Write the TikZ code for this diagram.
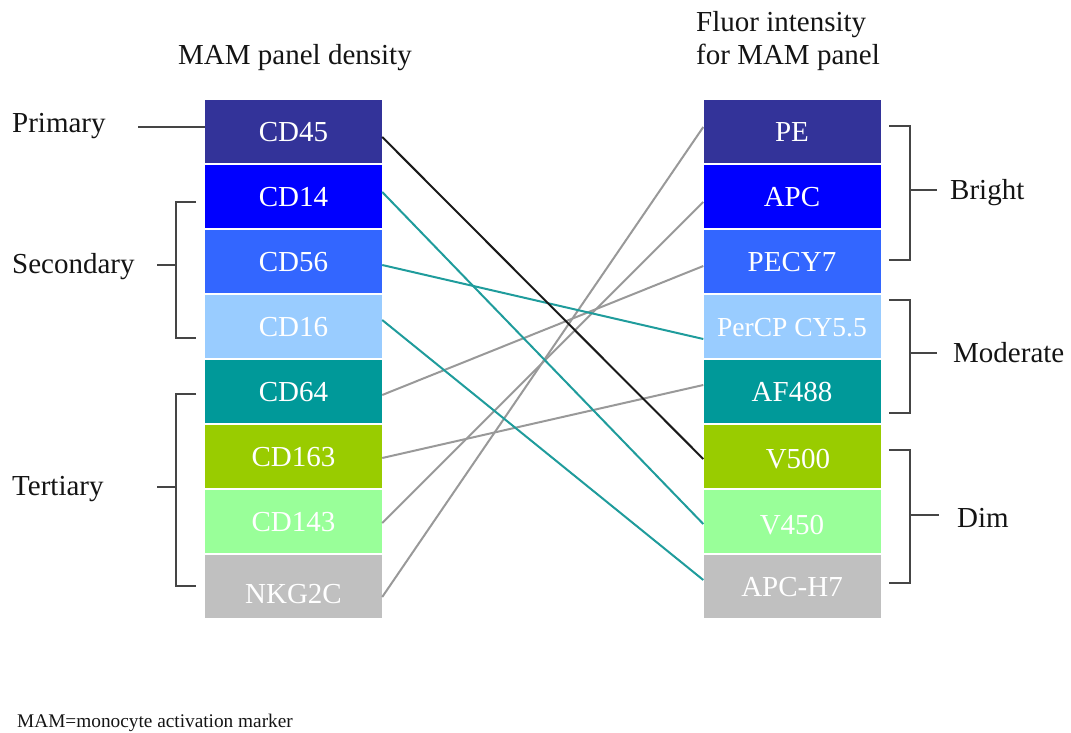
\documentclass[tikz,border=0pt]{standalone}
\usepackage{fontspec}
\setmainfont{Liberation Serif}
\definecolor{cA}{HTML}{333399}
\definecolor{cB}{HTML}{0000FF}
\definecolor{cC}{HTML}{3366FF}
\definecolor{cD}{HTML}{99CCFF}
\definecolor{cE}{HTML}{009999}
\definecolor{cF}{HTML}{99CC00}
\definecolor{cG}{HTML}{99FF99}
\definecolor{cH}{HTML}{C0C0C0}
\definecolor{lteal}{HTML}{1F9C9C}
\definecolor{lgray}{HTML}{999999}
\definecolor{lblack}{HTML}{1A1A1A}
\definecolor{tblack}{HTML}{141414}
\definecolor{bgray}{HTML}{454545}
\tikzset{
  box/.style={minimum width=177pt, minimum height=63pt, inner sep=0pt, text=white,
    font=\fontsize{29}{33}\selectfont, text height=20pt, text depth=0pt},
  lbl/.style={font=\fontsize{29}{33}\selectfont, anchor=base west, inner sep=0pt, text=tblack},
  brk/.style={draw=bgray, line width=1.5pt},
  lnk/.style={line width=2pt},
}
\begin{document}
\begin{tikzpicture}[x=1pt,y=-1pt]
\useasboundingbox (0,0) rectangle (1071,733);
% titles
\node[lbl] (t1) at (178,65) {MAM panel density};
\node[lbl] (t2) at (696,32) {Fluor intensity};
\node[lbl] (t3) at (696,65) {for MAM panel};
% left column
\node[box, fill=cA] (CD45) at (293.5,131.5) {CD45};
\node[box, fill=cB] (CD14) at (293.5,196.5) {CD14};
\node[box, fill=cC] (CD56) at (293.5,261.5) {CD56};
\node[box, fill=cD] (CD16) at (293.5,326.5) {CD16};
\node[box, fill=cE] (CD64) at (293.5,391.5) {CD64};
\node[box, fill=cF] (CD163) at (293.5,456.5) {CD163};
\node[box, fill=cG] (CD143) at (293.5,521.5) {CD143};
\node[box, fill=cH, text height=34pt] (NKG2C) at (293.5,586.5) {NKG2C};
% right column
\node[box, fill=cA] (PE) at (792,131.5) {PE};
\node[box, fill=cB] (APC) at (792,196.5) {APC};
\node[box, fill=cC] (PECY7) at (792,261.5) {PECY7};
\node[box, fill=cD, font=\fontsize{27.5}{33}\selectfont] (PerCP) at (792,326.5) {PerCP CY5.5};
\node[box, fill=cE] (AF488) at (792,391.5) {AF488};
\node[box, fill=cF, text height=24pt] (V500) at (792,456.5) {\hspace{12pt}V500};
\node[box, fill=cG, text height=25pt] (V450) at (792,521.5) {V450};
\node[box, fill=cH] (APCH7) at (792,586.5) {APC-H7};
% left labels
\node[lbl] (prim) at (12,133) {Primary};
\node[lbl] (sec) at (12,273) {Secondary};
\node[lbl] (ter) at (12,495) {Tertiary};
% right labels
\node[lbl] (bri) at (950,200) {Bright};
\node[lbl] (mod) at (953,362) {Moderate};
\node[lbl] (dim) at (957,527) {Dim};
% left brackets
\coordinate (pl) at (138,127);
\draw[brk] (pl) -- (pl -| CD45.west);
\draw[brk] (196,202) -- (176,202) -- (176,338) -- (196,338);
\draw[brk] (157,265) -- (176,265);
\draw[brk] (196,394) -- (176,394) -- (176,586) -- (196,586);
\draw[brk] (157,487) -- (176,487);
% right brackets
\draw[brk] (889,126) -- (910,126) -- (910,260) -- (889,260);
\draw[brk] (910,190) -- (937,190);
\draw[brk] (889,300) -- (910,300) -- (910,413) -- (889,413);
\draw[brk] (910,353) -- (937,353);
\draw[brk] (889,450) -- (910,450) -- (910,583) -- (889,583);
\draw[brk] (910,515) -- (939,515);
% connectors
\draw[lnk, lgray] ([yshift=-3.5pt]CD64.east) -- ([yshift=-4.5pt]PECY7.west);
\draw[lnk, lgray] ([yshift=-1.5pt]CD163.east) -- ([yshift=6.5pt]AF488.west);
\draw[lnk, lgray] ([yshift=-1.5pt]CD143.east) -- ([yshift=-5.5pt]APC.west);
\draw[lnk, lgray] ([yshift=-10.5pt]NKG2C.east) -- ([yshift=4.5pt]PE.west);
\draw[lnk, lteal] ([yshift=4.5pt]CD14.east) -- ([yshift=-2.5pt]V450.west);
\draw[lnk, lteal] ([yshift=-3.5pt]CD56.east) -- ([yshift=-12.5pt]PerCP.west);
\draw[lnk, lteal] ([yshift=6.5pt]CD16.east) -- ([yshift=6.5pt]APCH7.west);
\draw[lnk, lblack] ([yshift=-5.5pt]CD45.east) -- ([yshift=-2.5pt]V500.west);
% footnote
\node[lbl, font=\fontsize{19.3}{22}\selectfont] (note) at (17,727) {MAM=monocyte activation marker};
\end{tikzpicture}
\end{document}
